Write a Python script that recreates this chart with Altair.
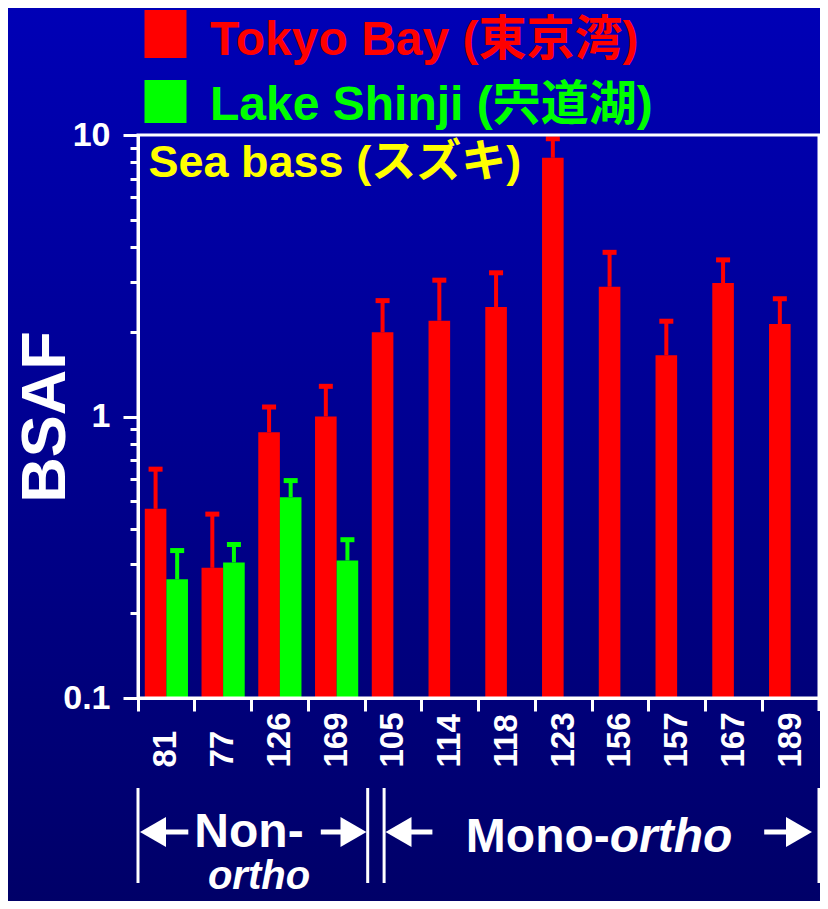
import altair as alt
import pandas as pd

FONT = "Liberation Sans, Arial, Noto Sans CJK JP"

# ---------------- data ----------------
congeners = ["81", "77", "126", "169", "105", "114", "118", "123", "156", "157", "167", "189"]
sites = ["Tokyo Bay", "Lake Shinji"]
site_colors = ["#ff0000", "#00ff00"]

tokyo_mean = [0.47, 0.29, 0.88, 1.00, 1.99, 2.19, 2.45, 8.3, 2.89, 1.65, 2.98, 2.13]
tokyo_upper = [0.65, 0.45, 1.08, 1.28, 2.58, 3.05, 3.24, 9.7, 3.83, 2.18, 3.60, 2.62]

shinji_congeners = ["81", "77", "126", "169"]
shinji_mean = [0.264, 0.303, 0.517, 0.308]
shinji_upper = [0.334, 0.351, 0.592, 0.365]

y_tick_values = [0.1, 0.2, 0.3, 0.4, 0.5, 0.6, 0.7, 0.8, 0.9,
                 1, 2, 3, 4, 5, 6, 7, 8, 9, 10]

legend_tokyo = "Tokyo Bay (東京湾)"
legend_shinji = "Lake Shinji (宍道湖)"
species_label = "Sea bass (スズキ)"
y_title = "BSAF"

df = pd.DataFrame({
    "congener": congeners + shinji_congeners,
    "site": [sites[0]] * len(congeners) + [sites[1]] * len(shinji_congeners),
    "bsaf": tokyo_mean + shinji_mean,
    "upper": tokyo_upper + shinji_upper,
})
one = pd.DataFrame({"k": [0]})

# ---------------- layout ----------------
W, H = 681, 563
PAD = {"left": 130, "top": 127, "right": 1, "bottom": 203}

x_axis = alt.Axis(
    title=None, bandPosition=0, labelAngle=-90,
    labelAlign="left", labelBaseline="middle", labelPadding=56,
    labelFontSize=33, labelFontWeight="bold", labelColor="white", labelFont=FONT,
    labelOverlap=False, tickSize=13, tickWidth=3, tickColor="white",
    domainColor="white", domainWidth=3, grid=False, zindex=1,
)
y_axis = alt.Axis(
    values=y_tick_values,
    labelExpr="datum.value == 0.1 ? '0.1' : datum.value == 1 ? '1' : datum.value == 10 ? '10' : ''",
    tickSize={"condition": {"test": "datum.value == 0.1 || datum.value == 1 || datum.value == 10",
                            "value": 15}, "value": 8},
    tickWidth=3, tickColor="white", domainColor="white", domainWidth=3,
    labelColor="white", labelFontSize=34, labelFontWeight="bold", labelFont=FONT,
    labelPadding=13, labelOverlap=False,
    title=y_title, titleFontSize=63, titleFontWeight="bold", titleColor="white",
    titleFont=FONT, titleX=-93, titleY=H / 2, titleAngle=270, titleAlign="center",
    titleBaseline="middle", grid=False, zindex=1,
)

x_enc = alt.X("congener:N", sort=congeners,
              scale=alt.Scale(paddingInner=0, paddingOuter=0), axis=x_axis)
xo_enc = alt.XOffset("site:N", sort=sites,
                     scale=alt.Scale(domain=sites, paddingInner=0, paddingOuter=0.314))
y_scale = alt.Scale(type="log", domain=[0.1, 10])
color_enc = alt.Color("site:N", scale=alt.Scale(domain=sites, range=site_colors), legend=None)

gradient = alt.LinearGradient(
    gradient="linear", x1=0, y1=0, x2=0, y2=1,
    stops=[alt.GradientStop(offset=0, color="#0000b6"),
           alt.GradientStop(offset=1, color="#000068")],
)
background = alt.Chart(one).mark_rect(fill=gradient).encode(
    x=alt.value(-PAD["left"]), x2=alt.value(W + PAD["right"]),
    y=alt.value(-PAD["top"]), y2=alt.value(H + PAD["bottom"]),
)

base = alt.Chart(df)
bars = base.mark_bar(opacity=1).encode(
    x=x_enc, xOffset=xo_enc,
    y=alt.Y("bsaf:Q", scale=y_scale, axis=y_axis, stack=False),
    y2=alt.value(H), color=color_enc,
)
stems = base.mark_rule(strokeWidth=4).encode(
    x=x_enc, xOffset=xo_enc, y=alt.Y("bsaf:Q", scale=y_scale, axis=y_axis, stack=False),
    y2="upper:Q", color=color_enc,
)
caps = base.mark_tick(thickness=5, size=14, opacity=1).encode(
    x=x_enc, xOffset=xo_enc,
    y=alt.Y("upper:Q", scale=y_scale, axis=y_axis, stack=False), color=color_enc,
)

border = alt.Chart(one).mark_rect(filled=False, color="white", strokeWidth=3).encode(
    x=alt.value(0), x2=alt.value(W), y=alt.value(0), y2=alt.value(H),
)
end_tick = alt.Chart(one).mark_rule(color="white", strokeWidth=3).encode(
    x=alt.value(W), y=alt.value(H), y2=alt.value(H + 13),
)

# legend
def square(y0, y1, col):
    return alt.Chart(one).mark_rect(color=col).encode(
        x=alt.value(6.5), x2=alt.value(48.5), y=alt.value(y0), y2=alt.value(y1))

def label(txt, x, y, col, size, align="left", style="normal"):
    return alt.Chart(one).mark_text(
        align=align, baseline="alphabetic", font=FONT, fontSize=size,
        fontWeight="bold", fontStyle=style, color=col,
    ).encode(x=alt.value(x), y=alt.value(y), text=alt.value(txt))

legend_layers = [
    square(-125, -77, site_colors[0]),
    square(-55, -12, site_colors[1]),
    label(legend_tokyo, 72, -80, site_colors[0], 48),
    label(legend_shinji, 72, -15, site_colors[1], 48),
    label(species_label, 10.5, 42, "#ffff00", 45),
]

# bracket annotation under the axis
def vline(x):
    return alt.Chart(one).mark_rule(color="white", strokeWidth=3).encode(
        x=alt.value(x), y=alt.value(653), y2=alt.value(748))

HEAD = 900
HALF = 12.5

def arrow(x_shaft0, x_shaft1, x_head, shape):
    shaft = alt.Chart(one).mark_rule(color="white", strokeWidth=5).encode(
        x=alt.value(x_shaft0), x2=alt.value(x_shaft1), y=alt.value(697))
    head = alt.Chart(one).mark_point(shape=shape, filled=True, size=HEAD, color="white",
                                     opacity=1, strokeWidth=0).encode(
        x=alt.value(x_head), y=alt.value(697))
    return [shaft, head]

bracket_layers = [vline(0), vline(229.7), vline(246.1), vline(W)]
bracket_layers += arrow(2.5 + HALF, 50.3, 2.5 + HALF, "triangle-left")
bracket_layers += arrow(182.8, 228 - HALF, 228 - HALF, "triangle-right")
bracket_layers += arrow(248 + HALF, 294.4, 248 + HALF, "triangle-left")
bracket_layers += arrow(626.2, 673.5 - HALF, 673.5 - HALF, "triangle-right")
bracket_layers += [
    label("Non-", 111, 712, "white", 48, align="center"),
    label("ortho", 121, 754, "white", 40, align="center", style="italic"),
    label("Mono-", 471.8, 717, "white", 48, align="right"),
    label("ortho", 471.8, 717, "white", 48, align="left", style="italic"),
]

chart = alt.layer(
    background, bars, stems, caps, border, end_tick, *legend_layers, *bracket_layers,
).properties(
    width=W, height=H,
    autosize=alt.AutoSizeParams(type="none"),
    padding=PAD,
).configure(
    font=FONT, background="#00008a",
).configure_view(strokeWidth=0)

chart.save("out.html", embed_options={"renderer": "svg", "actions": False})
